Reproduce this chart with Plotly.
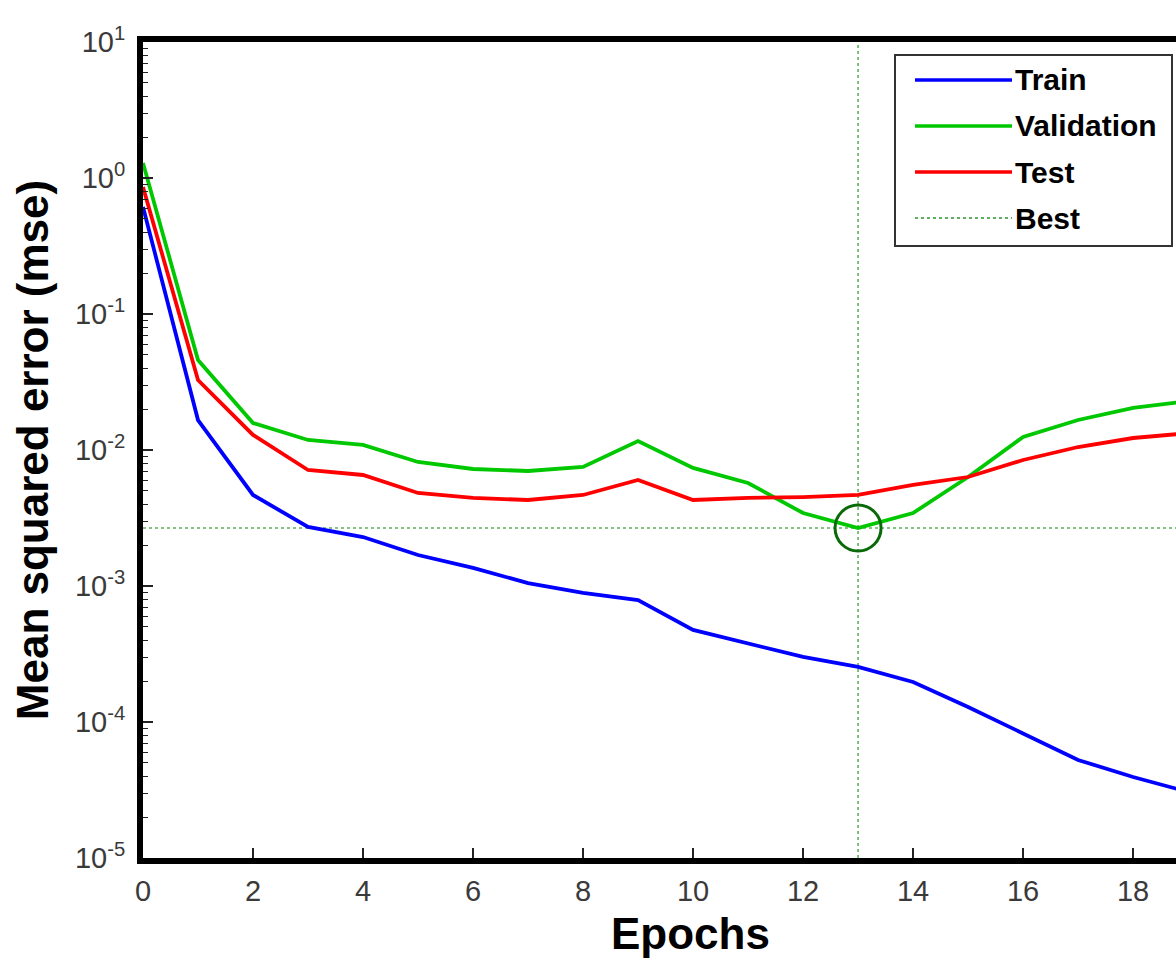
import plotly.graph_objects as go

# ---- data ----
epochs = list(range(0, 20))
train = [0.612, 0.0166, 0.00467, 0.00272, 0.00229, 0.00169, 0.00136, 0.00105, 0.00089, 0.000789,
         0.000475, 0.000381, 0.000301, 0.000254, 0.000197, 0.000129, 8.3e-5, 5.26e-5, 3.94e-5, 3.06e-5]
validation = [1.29, 0.0459, 0.0158, 0.01185, 0.0109, 0.00817, 0.00725, 0.00701, 0.0075, 0.01164,
              0.00738, 0.00572, 0.00344, 0.00267, 0.00344, 0.00633, 0.01246, 0.01662, 0.0204, 0.0229]
test = [0.859, 0.0327, 0.0129, 0.00713, 0.00655, 0.00483, 0.00444, 0.00429, 0.00467, 0.00602,
        0.00429, 0.00444, 0.00451, 0.00467, 0.00553, 0.00633, 0.00844, 0.01052, 0.01225, 0.0133]
best_epoch = 13
best_value = 0.00267
x_ticks = [0, 2, 4, 6, 8, 10, 12, 14, 16, 18]
y_decades = [1e-5, 1e-4, 1e-3, 1e-2, 1e-1, 1e0, 1e1]
y_tick_text = ["10<sup>-5</sup>", "10<sup>-4</sup>", "10<sup>-3</sup>", "10<sup>-2</sup>",
               "10<sup>-1</sup>", "10<sup>0</sup>", "10<sup>1</sup>"]
legend_labels = ["Train", "Validation", "Test", "Best"]
x_title = "Epochs"
y_title = "Mean squared error (mse)"

# ---- layout constants ----
W, H = 1176, 962
L, R, T, B = 143, 0, 42, 104
FONT = "Liberation Sans"

BLUE = "#0000ff"
GREEN = "#00c800"
RED = "#ff0000"
BEST = "rgba(40,150,40,0.75)"

fig = go.Figure()

# best guide lines
fig.add_trace(go.Scatter(x=[best_epoch, best_epoch], y=[y_decades[0], y_decades[-1]], mode="lines",
                         line=dict(color=BEST, width=1.6, dash="dot"), showlegend=False, hoverinfo="skip"))
fig.add_trace(go.Scatter(x=[epochs[0], epochs[-1]], y=[best_value, best_value], mode="lines",
                         line=dict(color=BEST, width=1.6, dash="dot"), showlegend=False, hoverinfo="skip"))

fig.add_trace(go.Scatter(x=epochs, y=train, mode="lines", name="Train",
                         line=dict(color=BLUE, width=3.8), showlegend=False))
fig.add_trace(go.Scatter(x=epochs, y=validation, mode="lines", name="Validation",
                         line=dict(color=GREEN, width=3.8), showlegend=False))
fig.add_trace(go.Scatter(x=epochs, y=test, mode="lines", name="Test",
                         line=dict(color=RED, width=3.8), showlegend=False))

# best marker circle
fig.add_trace(go.Scatter(x=[best_epoch], y=[best_value], mode="markers",
                         marker=dict(symbol="circle-open", size=46, color="#0a6a0a",
                                     line=dict(width=3, color="#0a6a0a")),
                         showlegend=False, cliponaxis=False))

minor_vals = [m * d for d in y_decades[:-1] for m in range(2, 10)]

fig.update_layout(
    width=W, height=H,
    margin=dict(l=L, r=R, t=T, b=B, autoexpand=False),
    paper_bgcolor="white", plot_bgcolor="white",
    font=dict(family=FONT, color="#3a3a3a"),
    xaxis=dict(
        range=[0, 18.78], tickvals=x_ticks, ticks="inside", ticklen=10, tickwidth=1.5,
        tickcolor="#222", showgrid=False, zeroline=False, automargin=False,
        showline=True, linecolor="black", linewidth=6, mirror=True,
        tickfont=dict(size=29, color="#3a3a3a", family=FONT), ticklabelstandoff=2,
    ),
    yaxis=dict(
        type="log", range=[-5, 1], tickvals=y_decades, ticktext=y_tick_text,
        ticks="inside", ticklen=10, tickwidth=1.5, tickcolor="#222",
        minor=dict(tickvals=minor_vals, ticks="inside", ticklen=5, tickwidth=1.2, tickcolor="#222",
                   showgrid=False),
        showgrid=False, zeroline=False, automargin=False,
        showline=True, linecolor="black", linewidth=6, mirror=False,
        tickfont=dict(size=29, color="#3a3a3a", family=FONT), ticklabelstandoff=6,
        title=dict(text=y_title,
                   font=dict(size=44, color="black", family=FONT, weight="bold"), standoff=14),
    ),
)

plot_w = W - L - R
plot_h = H - T - B


def px(xp):
    return (xp - L) / plot_w


def py(yp):
    return (H - B - yp) / plot_h


# x-axis title (the original plot box extends past the right edge, so title sits right of center)
fig.add_annotation(xref="paper", yref="paper", x=px(690), y=py(960), text=x_title,
                   showarrow=False, xanchor="center", yanchor="bottom",
                   font=dict(size=44, color="black", family=FONT, weight="bold"))

# ---- manual legend (MATLAB style) ----
fig.add_shape(type="rect", xref="paper", yref="paper",
              x0=px(895), x1=px(1172), y0=py(246), y1=py(55),
              line=dict(color="#333", width=2), fillcolor="white", layer="above")

legend_styles = [dict(color=BLUE, width=3.5), dict(color=GREEN, width=3.5),
                 dict(color=RED, width=3.5), dict(color=BEST, width=1.8, dash="dot")]
row_y = [80, 126, 172, 218]
for lab, sty, ry in zip(legend_labels, legend_styles, row_y):
    fig.add_shape(type="line", xref="paper", yref="paper",
                  x0=px(915), x1=px(1012), y0=py(ry), y1=py(ry), line=sty, layer="above")
    fig.add_annotation(xref="paper", yref="paper", x=px(1013), y=py(ry), text=lab,
                       showarrow=False, xanchor="left", yanchor="middle",
                       font=dict(size=30, color="black", family=FONT, weight="bold"))

fig.write_html("out.html", config={"displayModeBar": False},
               post_script="document.body.style.margin='0';")
